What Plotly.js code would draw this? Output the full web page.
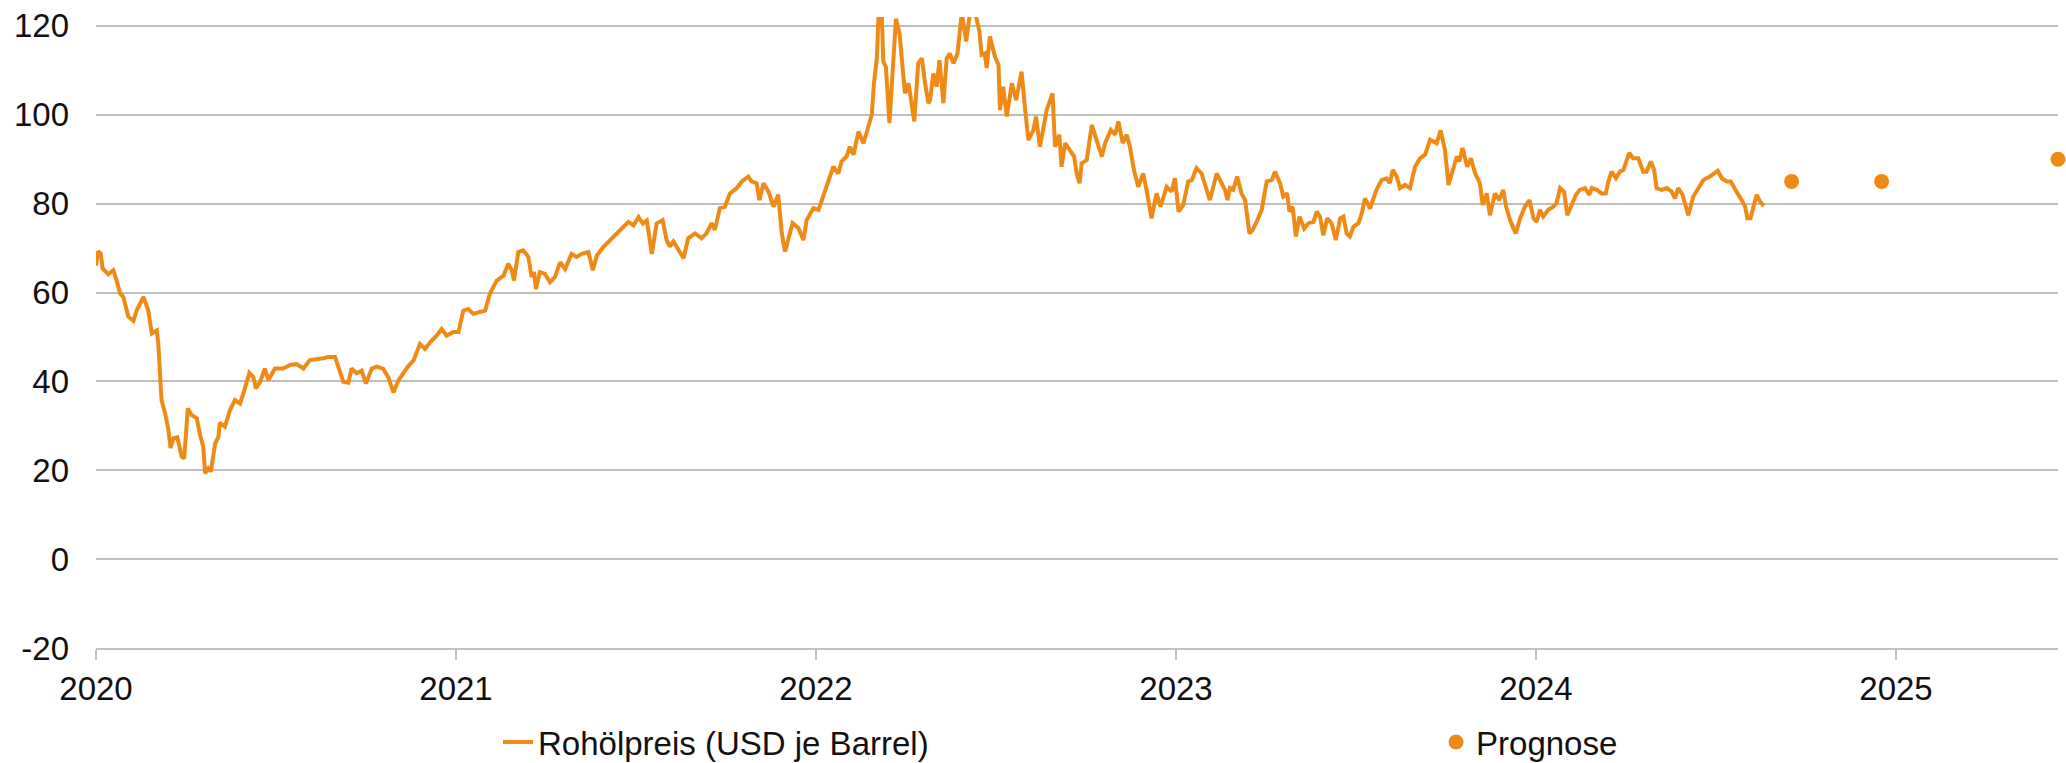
<!DOCTYPE html>
<html>
<head>
<meta charset="utf-8">
<script src="https://cdn.plot.ly/plotly-3.0.1.min.js"></script>
<style>
  html, body { margin: 0; padding: 0; background: #ffffff; }
  #chart { width: 2066px; height: 763px; }
</style>
</head>
<body>
<div id="chart"></div>
<script>
// Time in decimal years (2020.0 = start of 2020)
const priceTime = [
  2020.000, 2020.006, 2020.013, 2020.0185, 2020.034, 2020.048, 2020.057, 2020.067, 2020.076, 2020.090,
  2020.104, 2020.113, 2020.132, 2020.145, 2020.155, 2020.169, 2020.173, 2020.182, 2020.192, 2020.201,
  2020.207, 2020.215, 2020.226, 2020.238, 2020.245, 2020.255, 2020.266, 2020.280, 2020.289, 2020.298,
  2020.303, 2020.312, 2020.319, 2020.331, 2020.340, 2020.344, 2020.358, 2020.372, 2020.386, 2020.400,
  2020.411, 2020.426, 2020.437, 2020.444, 2020.456, 2020.469, 2020.479, 2020.497, 2020.520, 2020.539,
  2020.557, 2020.576, 2020.594, 2020.613, 2020.632, 2020.645, 2020.664, 2020.673, 2020.687, 2020.701,
  2020.710, 2020.724, 2020.738, 2020.750, 2020.766, 2020.780, 2020.798, 2020.812, 2020.826, 2020.840,
  2020.854, 2020.868, 2020.882, 2020.900, 2020.914, 2020.928, 2020.946, 2020.960, 2020.974, 2020.993,
  2021.007, 2021.020, 2021.034, 2021.048, 2021.067, 2021.081, 2021.094, 2021.113, 2021.132, 2021.145,
  2021.155, 2021.161, 2021.173, 2021.187, 2021.201, 2021.210, 2021.217, 2021.222, 2021.233, 2021.247,
  2021.261, 2021.275, 2021.289, 2021.303, 2021.321, 2021.335, 2021.349, 2021.368, 2021.380, 2021.391,
  2021.409, 2021.428, 2021.446, 2021.465, 2021.479, 2021.493, 2021.507, 2021.519, 2021.530, 2021.544,
  2021.557, 2021.574, 2021.585, 2021.594, 2021.604, 2021.615, 2021.632, 2021.645, 2021.664, 2021.682,
  2021.696, 2021.710, 2021.719, 2021.733, 2021.747, 2021.761, 2021.780, 2021.794, 2021.812, 2021.821,
  2021.835, 2021.843, 2021.854, 2021.868, 2021.882, 2021.895, 2021.905, 2021.914, 2021.923, 2021.935,
  2021.951, 2021.965, 2021.974, 2021.993, 2022.007, 2022.020, 2022.034, 2022.048, 2022.062, 2022.071,
  2022.085, 2022.094, 2022.104, 2022.118, 2022.132, 2022.145, 2022.155, 2022.161, 2022.169, 2022.176,
  2022.182, 2022.187, 2022.194, 2022.204, 2022.213, 2022.222, 2022.232, 2022.238, 2022.247, 2022.257,
  2022.266, 2022.273, 2022.284, 2022.294, 2022.303, 2022.312, 2022.317, 2022.326, 2022.335, 2022.343,
  2022.354, 2022.363, 2022.372, 2022.382, 2022.393, 2022.405, 2022.417, 2022.428, 2022.442, 2022.454,
  2022.460, 2022.469, 2022.474, 2022.483, 2022.497, 2022.507, 2022.511, 2022.520, 2022.530, 2022.544,
  2022.556, 2022.571, 2022.581, 2022.590, 2022.604, 2022.611, 2022.622, 2022.632, 2022.641, 2022.657,
  2022.664, 2022.676, 2022.682, 2022.692, 2022.706, 2022.717, 2022.724, 2022.732, 2022.738, 2022.752,
  2022.766, 2022.780, 2022.794, 2022.803, 2022.819, 2022.831, 2022.840, 2022.852, 2022.863, 2022.872,
  2022.883, 2022.895, 2022.909, 2022.919, 2022.932, 2022.946, 2022.957, 2022.974, 2022.988, 2022.997,
  2023.007, 2023.020, 2023.034, 2023.044, 2023.057, 2023.071, 2023.094, 2023.113, 2023.127, 2023.136,
  2023.143, 2023.150, 2023.159, 2023.170, 2023.182, 2023.192, 2023.204, 2023.213, 2023.224, 2023.238,
  2023.252, 2023.266, 2023.275, 2023.289, 2023.298, 2023.309, 2023.315, 2023.324, 2023.333, 2023.343,
  2023.356, 2023.368, 2023.382, 2023.391, 2023.400, 2023.409, 2023.420, 2023.432, 2023.444, 2023.456,
  2023.465, 2023.474, 2023.483, 2023.493, 2023.507, 2023.516, 2023.525, 2023.539, 2023.557, 2023.571,
  2023.585, 2023.594, 2023.602, 2023.613, 2023.622, 2023.636, 2023.650, 2023.664, 2023.678, 2023.692,
  2023.706, 2023.724, 2023.735, 2023.747, 2023.757, 2023.769, 2023.780, 2023.787, 2023.796, 2023.809,
  2023.819, 2023.831, 2023.844, 2023.852, 2023.863, 2023.872, 2023.886, 2023.898, 2023.909, 2023.917,
  2023.928, 2023.939, 2023.944, 2023.956, 2023.969, 2023.982, 2023.993, 2024.002, 2024.011, 2024.020,
  2024.034, 2024.048, 2024.057, 2024.067, 2024.078, 2024.087, 2024.099, 2024.111, 2024.122, 2024.136,
  2024.148, 2024.155, 2024.169, 2024.182, 2024.194, 2024.201, 2024.210, 2024.222, 2024.233, 2024.243,
  2024.252, 2024.259, 2024.270, 2024.284, 2024.298, 2024.307, 2024.319, 2024.328, 2024.335, 2024.349,
  2024.363, 2024.377, 2024.386, 2024.395, 2024.407, 2024.417, 2024.423, 2024.437, 2024.454, 2024.465,
  2024.483, 2024.497, 2024.505, 2024.516, 2024.530, 2024.541, 2024.550, 2024.562, 2024.571, 2024.581,
  2024.587, 2024.596, 2024.604, 2024.613, 2024.622, 2024.633
];

// Brent crude price, USD per barrel
const pricesUSD = [
  66.1, 69.3, 68.8, 65.4, 64.1, 65.0, 62.8, 59.8, 59.0, 54.5,
  53.6, 56.0, 59.0, 56.0, 50.8, 51.5, 48.5, 35.8, 32.8, 29.1,
  25.0, 27.2, 27.4, 23.1, 22.7, 33.9, 32.4, 31.7, 27.9, 25.3,
  19.3, 20.4, 19.7, 26.0, 27.5, 30.7, 29.8, 33.5, 35.8, 35.0,
  37.7, 41.9, 41.0, 38.4, 39.9, 42.9, 40.3, 42.9, 42.9, 43.7,
  43.9, 42.9, 44.8, 44.9, 45.2, 45.5, 45.5, 43.3, 39.9, 39.7,
  42.9, 41.8, 42.4, 39.5, 42.9, 43.3, 42.8, 40.9, 37.5, 40.2,
  42.0, 43.5, 44.7, 48.4, 47.3, 48.8, 50.3, 51.8, 50.3, 51.1,
  51.1, 55.9, 56.3, 55.2, 55.6, 55.9, 59.7, 62.7, 63.8, 66.5,
  65.0, 62.7, 69.1, 69.5, 68.0, 63.5, 64.6, 60.8, 64.6, 64.2,
  62.3, 63.5, 66.8, 65.3, 68.7, 68.0, 68.7, 69.1, 65.0, 68.3,
  70.2, 71.7, 73.2, 74.7, 75.9, 75.1, 77.0, 75.5, 76.2, 68.7,
  75.5, 76.3, 71.8, 70.3, 71.5, 70.0, 67.7, 72.2, 73.3, 72.2,
  73.3, 75.6, 74.1, 79.0, 79.3, 82.3, 83.5, 85.0, 86.1, 85.0,
  84.6, 80.8, 84.6, 82.7, 79.3, 82.0, 73.3, 69.2, 71.8, 75.6,
  74.5, 71.8, 76.3, 79.0, 78.6, 81.6, 85.0, 88.3, 86.8, 89.5,
  90.6, 92.8, 91.0, 96.2, 93.6, 97.7, 100.0, 107.1, 112.7, 127.0,
  124.0, 112.0, 110.8, 98.1, 110.0, 121.6, 118.3, 112.7, 104.8, 107.1,
  101.9, 98.5, 111.6, 112.7, 107.1, 102.6, 103.3, 109.3, 106.3, 112.3,
  102.6, 112.7, 113.8, 111.6, 113.8, 123.0, 116.5, 123.0, 123.0, 118.7,
  113.5, 113.8, 110.5, 117.6, 113.1, 111.2, 101.1, 106.3, 99.6, 107.1,
  103.3, 109.7, 101.1, 94.3, 96.6, 99.6, 92.8, 97.0, 101.1, 104.8,
  92.8, 95.5, 88.3, 93.6, 92.1, 90.6, 86.8, 84.6, 89.1, 89.8,
  97.7, 94.3, 90.6, 93.6, 96.6, 95.5, 98.5, 93.6, 95.5, 92.8,
  87.6, 83.8, 86.8, 82.7, 76.7, 82.3, 79.3, 83.8, 82.7, 85.7,
  78.2, 79.7, 85.0, 85.3, 88.0, 86.8, 80.8, 86.8, 84.6, 83.1,
  80.8, 83.5, 83.1, 86.1, 82.3, 80.8, 73.3, 74.1, 75.9, 78.6,
  85.0, 85.3, 87.2, 84.6, 81.6, 82.3, 78.2, 79.3, 72.6, 77.1,
  74.4, 75.6, 75.9, 78.2, 77.1, 72.9, 76.7, 75.6, 71.8, 76.7,
  77.1, 73.3, 72.6, 74.8, 75.6, 77.8, 81.2, 78.9, 83.1, 85.3,
  85.7, 84.6, 87.6, 86.1, 83.5, 84.2, 83.5, 88.3, 90.2, 91.0,
  94.4, 93.6, 96.5, 92.1, 84.2, 88.0, 90.6, 89.5, 92.5, 88.3,
  90.2, 86.8, 84.6, 79.7, 82.3, 77.4, 82.3, 80.8, 83.1, 79.3,
  76.3, 74.1, 73.3, 76.7, 79.3, 80.8, 76.7, 75.9, 78.6, 77.1,
  78.6, 79.3, 80.1, 83.5, 82.7, 77.4, 79.7, 82.0, 83.1, 83.5,
  82.0, 83.5, 83.1, 82.3, 82.3, 85.0, 87.2, 85.7, 87.2, 87.6,
  89.8, 91.4, 90.2, 90.2, 87.2, 87.2, 89.5, 87.6, 83.5, 83.1,
  83.5, 82.7, 81.2, 83.5, 82.0, 78.9, 77.4, 81.6, 83.8, 85.3,
  86.1, 86.8, 87.4, 85.7, 85.0, 85.0, 83.5, 82.0, 80.8, 79.3,
  76.7, 76.7, 79.3, 82.0, 80.5, 79.5
];

// Forecast points
const forecastTime = [2024.71, 2024.96, 2025.45];
const forecastUSD = [85, 85, 90];

// Axis ticks
const yearTicks = [2020, 2021, 2022, 2023, 2024, 2025];
const yearLabels = ['2020', '2021', '2022', '2023', '2024', '2025'];
const yTicks = [-20, 0, 20, 40, 60, 80, 100, 120];
const yLabels = ['-20', '0', '20', '40', '60', '80', '100', '120'];

const ORANGE = '#EF8A17';
const GRID = '#BFBFBF';
const FONT = 'Arial, "Liberation Sans", sans-serif';
const TEXT = '#111111';

const traces = [
  {
    type: 'scatter', mode: 'lines',
    x: priceTime, y: pricesUSD,
    name: 'Rohölpreis (USD je Barrel)',
    line: { color: ORANGE, width: 4 },
    legend: 'legend'
  },
  {
    type: 'scatter', mode: 'markers',
    x: forecastTime, y: forecastUSD,
    name: 'Prognose',
    marker: { color: ORANGE, size: 15 },
    cliponaxis: false,
    legend: 'legend2'
  }
];

const layout = {
  width: 2066, height: 763,
  margin: { l: 96, r: 8, t: 17, b: 115, autoexpand: false },
  paper_bgcolor: '#ffffff', plot_bgcolor: '#ffffff',
  font: { family: FONT, size: 33, color: TEXT },
  xaxis: {
    type: 'linear',
    range: [2020, 2025.45],
    tickvals: yearTicks, ticktext: yearLabels,
    showgrid: false, zeroline: false,
    showline: true, linecolor: GRID, linewidth: 2,
    ticks: 'outside', ticklen: 10, tickwidth: 1.5, tickcolor: GRID,
    tickfont: { family: FONT, size: 33, color: TEXT },
    ticklabelstandoff: 0,
    automargin: false
  },
  yaxis: {
    range: [-20, 122],
    tickvals: yTicks, ticktext: yLabels,
    showgrid: true, gridcolor: GRID, gridwidth: 2,
    zeroline: false, showline: false, ticks: '',
    tickfont: { family: FONT, size: 33, color: TEXT },
    ticklabelstandoff: 26,
    automargin: false
  },
  showlegend: true,
  legend: {
    orientation: 'h', x: 0.2049, xanchor: 'left', y: -0.149, yanchor: 'middle',
    bgcolor: 'rgba(0,0,0,0)', borderwidth: 0,
    font: { family: FONT, size: 33, color: TEXT },
    itemwidth: 30
  },
  legend2: {
    orientation: 'h', x: 0.683, xanchor: 'left', y: -0.149, yanchor: 'middle',
    bgcolor: 'rgba(0,0,0,0)', borderwidth: 0,
    font: { family: FONT, size: 33, color: TEXT },
    itemwidth: 30
  },
  hovermode: false
};

Plotly.newPlot('chart', traces, layout, { staticPlot: true, displayModeBar: false });
</script>
</body>
</html>
